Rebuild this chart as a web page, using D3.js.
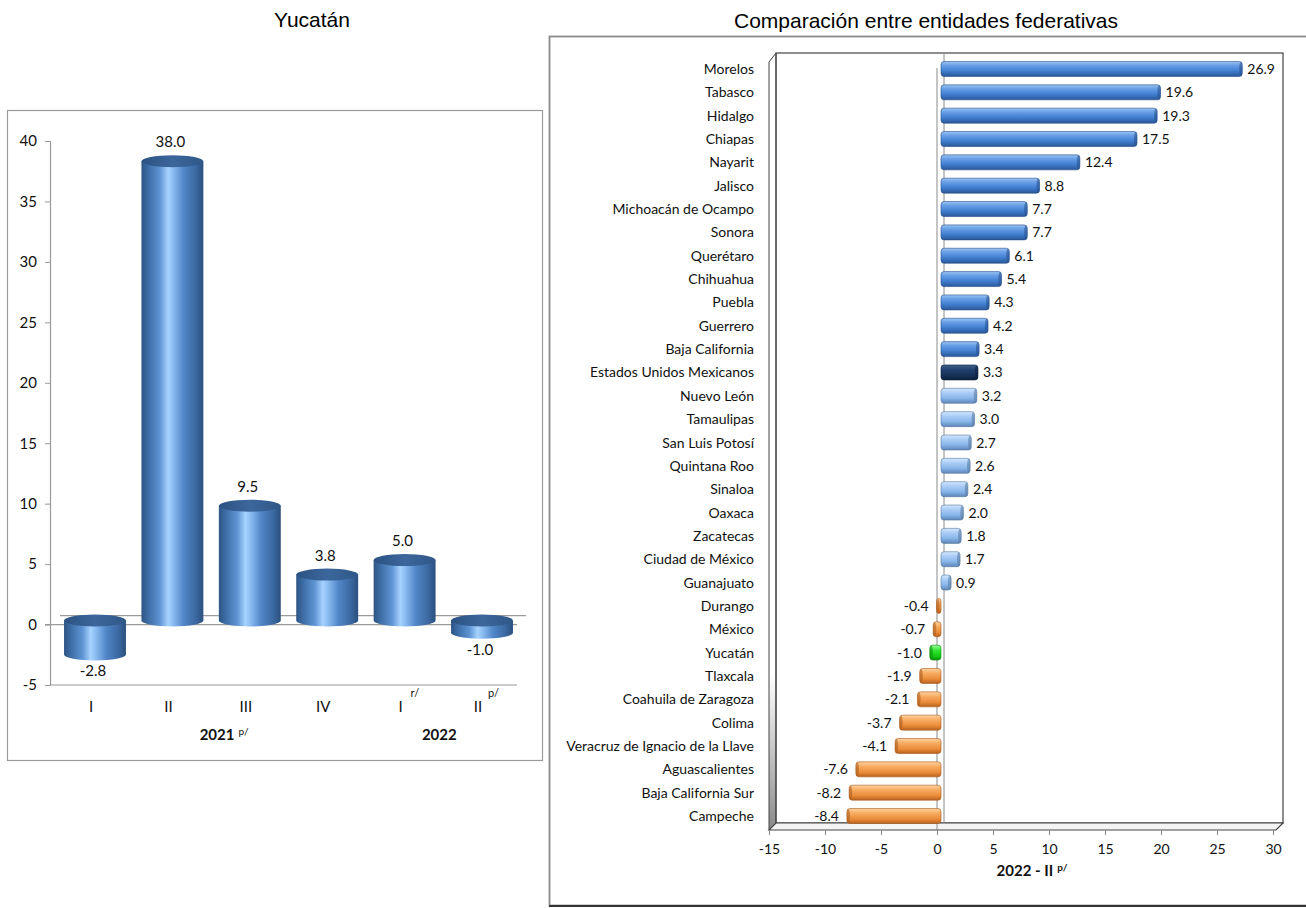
<!DOCTYPE html>
<html><head><meta charset="utf-8">
<script src="https://cdn.jsdelivr.net/npm/d3@7"></script>
<style>body{margin:0;background:#fff}svg{display:block}</style>
</head><body><svg id="c" width="1306" height="908"></svg>
<script>
// ---------- data: left chart (Yucatán) ----------
const quarters = ["I","II","III","IV","I","II"];
const quarterSup = ["","","","","r/","p/"];
const yucatanValues = [-2.8,38.0,9.5,3.8,5.0,-1.0];
const years = ["2021","2022"];
const yearSup = ["p/",""];
const yearFirstQuarter = [0,4];
const yearLastQuarter = [3,5];
const leftTicks = [-5,0,5,10,15,20,25,30,35,40];

// ---------- data: right chart ----------
const states = ["Morelos","Tabasco","Hidalgo","Chiapas","Nayarit","Jalisco","Michoacán de Ocampo","Sonora","Querétaro","Chihuahua","Puebla","Guerrero","Baja California","Estados Unidos Mexicanos","Nuevo León","Tamaulipas","San Luis Potosí","Quintana Roo","Sinaloa","Oaxaca","Zacatecas","Ciudad de México","Guanajuato","Durango","México","Yucatán","Tlaxcala","Coahuila de Zaragoza","Colima","Veracruz de Ignacio de la Llave","Aguascalientes","Baja California Sur","Campeche"];
const stateValues = [26.9,19.6,19.3,17.5,12.4,8.8,7.7,7.7,6.1,5.4,4.3,4.2,3.4,3.3,3.2,3.0,2.7,2.6,2.4,2.0,1.8,1.7,0.9,-0.4,-0.7,-1.0,-1.9,-2.1,-3.7,-4.1,-7.6,-8.2,-8.4];
const nationalName = "Estados Unidos Mexicanos";
const focusName = "Yucatán";
const rightTicks = [-15,-10,-5,0,5,10,15,20,25,30];
const leftTitle = "Yucatán";
const rightTitle = "Comparación entre entidades federativas";
const rightAxisTitle = "2022 - II";
const rightAxisSup = "p/";

const svg = d3.select("#c");
const FONT = "Lato, 'Noto Sans', sans-serif";
const fmt1 = v => v.toFixed(1);
const fmt0 = v => String(v);
const defs = svg.append("defs");

function grad(id, stops, vertical){
  const g = defs.append("linearGradient").attr("id", id)
    .attr("x1",0).attr("y1",0).attr("x2", vertical?0:1).attr("y2", vertical?1:0);
  stops.forEach(s => g.append("stop").attr("offset", s[0]).attr("stop-color", s[1]));
}
grad("cylBody", [[0,"#2c5584"],[0.12,"#3f6fa8"],[0.3,"#5f95d4"],[0.43,"#a6d3ff"],[0.5,"#8fc0f4"],[0.68,"#5186c8"],[0.88,"#3b68a0"],[1,"#2a507e"]], false);
grad("cylCap", [[0,"#2b5282"],[0.5,"#3c679c"],[1,"#2f5888"]], false);
grad("hBlue", [[0,"#9cc5f4"],[0.25,"#6aa0e6"],[0.6,"#4381d3"],[0.9,"#2f62a8"],[1,"#2a5591"]], true);
grad("hLight", [[0,"#d4e7fc"],[0.3,"#aacdf6"],[0.65,"#8ab6ea"],[1,"#5d85b8"]], true);
grad("hNavy", [[0,"#3d5e8c"],[0.35,"#1f3f6c"],[0.75,"#142f55"],[1,"#0c1f3a"]], true);
grad("hOrange", [[0,"#fdd3a3"],[0.3,"#f8ad62"],[0.7,"#ea8c3a"],[1,"#b8621e"]], true);
grad("hGreen", [[0,"#9dff9d"],[0.35,"#33e633"],[0.75,"#14c814"],[1,"#0a8a0a"]], true);
grad("wallGrad", [[0,"#ffffff"],[0.8,"#ffffff"],[1,"#8a8a8a"]], true);

// ---------- titles ----------
svg.append("text").attr("x",312).attr("y",27).attr("text-anchor","middle")
  .attr("font-family","'Liberation Sans', Arial, sans-serif").attr("font-size",21).text(leftTitle);
svg.append("text").attr("x",926).attr("y",28).attr("text-anchor","middle")
  .attr("font-family","'Liberation Sans', Arial, sans-serif").attr("font-size",21).text(rightTitle);

// ---------- left chart ----------
svg.append("rect").attr("x",7.5).attr("y",110.5).attr("width",535).attr("height",650)
  .attr("fill","#fff").attr("stroke","#9a9a9a").attr("stroke-width",1.2);

const yL = d3.scaleLinear().domain([-5,40]).range([685,141]);
const xL = d3.scaleBand().domain(d3.range(quarters.length)).range([52.3,516.7]).paddingInner(0.2).paddingOuter(0.1);
const L = svg.append("g");

// floor lines
L.append("line").attr("x1",60).attr("x2",526).attr("y1",yL(0)-9).attr("y2",yL(0)-9).attr("stroke","#9a9a9a").attr("stroke-width",1.2);
L.append("line").attr("x1",45).attr("x2",517).attr("y1",yL(0)).attr("y2",yL(0)).attr("stroke","#9a9a9a").attr("stroke-width",1.2);
L.append("line").attr("x1",50).attr("x2",517).attr("y1",yL(-5)).attr("y2",yL(-5)).attr("stroke","#9a9a9a").attr("stroke-width",1.2);

const yAxisL = d3.axisLeft(yL).tickValues(leftTicks).tickSize(5).tickPadding(8).tickFormat(fmt0);
const ga = L.append("g").attr("transform","translate(50,0)").call(yAxisL);
ga.select(".domain").attr("stroke","#9a9a9a").attr("stroke-width",1.2);
ga.selectAll(".tick line").attr("stroke","#9a9a9a");
ga.selectAll("text").attr("font-family",FONT).attr("font-size",15).attr("fill","#111");

// cylinders
const rxC = xL.bandwidth()/2, ryC = 6, off = 4;
quarters.forEach((q,i) => {
  const v = yucatanValues[i];
  const cx = xL(i) + xL.bandwidth()/2 + off;
  const yTop = yL(Math.max(v,0)) - off;
  const yBot = yL(Math.min(v,0)) - off;
  L.append("path")
    .attr("d", `M${cx-rxC},${yTop} L${cx-rxC},${yBot} A${rxC},${ryC} 0 0 0 ${cx+rxC},${yBot} L${cx+rxC},${yTop} Z`)
    .attr("fill","url(#cylBody)");
  L.append("ellipse").attr("cx",cx).attr("cy",yTop).attr("rx",rxC).attr("ry",ryC).attr("fill","url(#cylCap)");
  const lbl = L.append("text").attr("x",cx-2).attr("text-anchor","middle")
    .attr("font-family",FONT).attr("font-size",15).attr("fill","#111").text(fmt1(v));
  if (v >= 0) lbl.attr("y", yTop - ryC - 8);
  else lbl.attr("y", yBot + ryC + 16);
  const cxl = xL(i) + xL.bandwidth()/2;
  L.append("text").attr("x",cxl).attr("y",712).attr("text-anchor","middle")
    .attr("font-family",FONT).attr("font-size",15).attr("fill","#111").text(q);
  if (quarterSup[i]) {
    L.append("text").attr("x",cxl+10).attr("y",697)
      .attr("font-family",FONT).attr("font-size",11).attr("fill","#111").text(quarterSup[i]);
  }
});
years.forEach((yr,j) => {
  const a = xL(yearFirstQuarter[j]) + xL.bandwidth()/2;
  const b = xL(yearLastQuarter[j]) + xL.bandwidth()/2;
  const t = L.append("text").attr("x",(a+b)/2 + (yearSup[j]?17:0)).attr("y",740).attr("text-anchor","middle")
    .attr("font-family",FONT).attr("font-size",15).attr("font-weight","bold").attr("fill","#111");
  t.append("tspan").text(yr);
  if (yearSup[j]) t.append("tspan").attr("dx",4).attr("dy",-5).attr("font-size",10).attr("font-weight","normal").text(yearSup[j]);
});

// ---------- right chart ----------
svg.append("rect").attr("x",549.5).attr("y",36.5).attr("width",800).attr("height",869)
  .attr("fill","#fff").attr("stroke","#8a8a8a").attr("stroke-width",1.8);
svg.append("line").attr("x1",549).attr("x2",1306).attr("y1",906).attr("y2",906).attr("stroke","#333").attr("stroke-width",2);

const xs = d3.scaleLinear().domain([-15,30]).range([769,1273]);
const ys = d3.scaleBand().domain(states).range([57.3,827.7]);
const R = svg.append("g");
const dep = 7; // 3d depth offset
const yTopF = 62, yBotF = 830;

// left wall
R.append("polygon").attr("points",`${xs(-15)},${yTopF} ${xs(-15)+dep},${yTopF-dep-2} ${xs(-15)+dep},${yBotF-dep} ${xs(-15)},${yBotF}`)
  .attr("fill","url(#wallGrad)").attr("stroke","#444").attr("stroke-width",1);
// back wall
R.append("rect").attr("x",xs(-15)+dep).attr("y",yTopF-dep-2).attr("width",xs(30)-xs(-15)+3).attr("height",yBotF-yTopF+2)
  .attr("fill","none").attr("stroke","#444").attr("stroke-width",1.2);
// floor
R.append("polygon").attr("points",`${xs(-15)},${yBotF} ${xs(-15)+dep},${yBotF-dep} ${xs(30)+dep+3},${yBotF-dep} ${xs(30)+3},${yBotF}`)
  .attr("fill","#f4f4f4").attr("stroke","#444").attr("stroke-width",1.2);
// zero lines
R.append("line").attr("x1",xs(0)+dep).attr("x2",xs(0)+dep).attr("y1",yTopF-dep-2).attr("y2",yBotF-dep).attr("stroke","#8a8a8a");
R.append("line").attr("x1",xs(0)).attr("x2",xs(0)).attr("y1",yTopF+6).attr("y2",yBotF).attr("stroke","#8a8a8a");

// x axis
const xAxis = d3.axisBottom(xs).tickValues(rightTicks).tickSize(5).tickPadding(9).tickFormat(fmt0);
const gx = R.append("g").attr("transform",`translate(0,${yBotF})`).call(xAxis);
gx.select(".domain").remove();
gx.selectAll(".tick line").attr("stroke","#888");
gx.selectAll("text").attr("font-family",FONT).attr("font-size",14).attr("fill","#111");
const at = R.append("text").attr("x",1032).attr("y",876).attr("text-anchor","middle")
  .attr("font-family",FONT).attr("font-size",15).attr("font-weight","bold").attr("fill","#111");
at.append("tspan").text(rightAxisTitle);
at.append("tspan").attr("dx",4).attr("dy",-5).attr("font-size",10).text(rightAxisSup);

// category labels
states.forEach(s => {
  R.append("text").attr("x",754).attr("y",ys(s)+ys.bandwidth()/2+5).attr("text-anchor","end")
    .attr("font-family",FONT).attr("font-size",14).attr("fill","#111").text(s);
});

const natVal = stateValues[states.indexOf(nationalName)];
function fillFor(s,v){
  if (s===focusName) return "url(#hGreen)";
  if (s===nationalName) return "url(#hNavy)";
  if (v<0) return "url(#hOrange)";
  if (v>natVal) return "url(#hBlue)";
  return "url(#hLight)";
}
function edgeFor(s,v){
  if (s===focusName) return "#0a8a0a";
  if (s===nationalName) return "#0c1f3a";
  if (v<0) return "#a8591c";
  if (v>natVal) return "#264f8a";
  return "#56789f";
}
const bh = 15, bo = 4;
states.forEach((s,i) => {
  const v = stateValues[i];
  const cy = ys(s) + ys.bandwidth()/2;
  const x0 = xs(0)+bo, x1 = xs(v)+bo;
  const xa = Math.min(x0,x1), w = Math.abs(x1-x0);
  R.append("rect").attr("x",xa).attr("y",cy-bh/2).attr("width",Math.max(w,3)).attr("height",bh)
    .attr("rx",Math.min(3,w/2+0.5)).attr("fill",fillFor(s,v)).attr("stroke",edgeFor(s,v)).attr("stroke-width",0.6);
  R.append("ellipse").attr("cx", v>=0 ? x1-1.5 : x1+1.5).attr("cy",cy).attr("rx",1.6).attr("ry",bh/2-0.5)
    .attr("fill",edgeFor(s,v)).attr("opacity",0.55);
  const t = R.append("text").attr("y",cy+5).attr("font-family",FONT).attr("font-size",14).attr("fill","#111")
    .text(fmt1(v));
  if (v>=0) t.attr("x",x1+5).attr("text-anchor","start");
  else t.attr("x",x1-8).attr("text-anchor","end");
});
</script></body></html>
